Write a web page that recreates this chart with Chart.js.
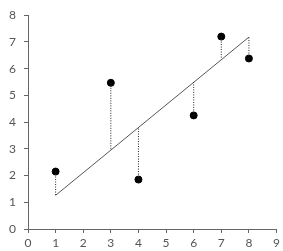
<!DOCTYPE html>
<html>
<head>
<meta charset="utf-8">
<script src="https://cdn.jsdelivr.net/npm/chart.js@4/dist/chart.umd.min.js"></script>
<style>
  html, body { margin: 0; padding: 0; background: #fff; }
  #wrap { width: 283px; height: 251px; }
</style>
</head>
<body>
<div id="wrap"><canvas id="chart"></canvas></div>
<script>
// observed points
const xValues = [1, 3, 4, 6, 7, 8];
const yValues = [2.15, 5.47, 1.85, 4.25, 7.2, 6.38];
// fitted line values read at each x
const fittedValues = [1.26, 2.96, 3.8, 5.5, 6.35, 7.18];
const xTicks = [0, 1, 2, 3, 4, 5, 6, 7, 8, 9];
const yTicks = [0, 1, 2, 3, 4, 5, 6, 7, 8];

const axisColor = '#666';
const textColor = '#555';

let datasets = [];

// dotted residual lines
xValues.forEach((x, i) => {
    datasets.push({
        type: 'line',
        data: [{ x: x, y: yValues[i] }, { x: x, y: fittedValues[i] }],
        borderColor: '#222',
        borderWidth: 1,
        borderDash: [1, 1.5],
        pointRadius: 0,
        fill: false
    });
});

// regression line
datasets.push({
    type: 'line',
    data: [
        { x: xValues[0], y: fittedValues[0] },
        { x: xValues[xValues.length - 1], y: fittedValues[fittedValues.length - 1] }
    ],
    borderColor: '#555',
    borderWidth: 1,
    pointRadius: 0,
    fill: false
});

// points
datasets.push({
    type: 'scatter',
    data: xValues.map((x, i) => ({ x: x, y: yValues[i] })),
    backgroundColor: '#000',
    borderColor: '#000',
    pointRadius: 3.5,
    pointHoverRadius: 3.5
});

const ctx = document.getElementById('chart').getContext('2d');
new Chart(ctx, {
    type: 'scatter',
    data: { datasets: datasets },
    options: {
        responsive: true,
        maintainAspectRatio: false,
        animation: false,
        layout: { padding: { top: 6, right: 6, left: 0, bottom: 0 } },
        plugins: {
            legend: { display: false },
            tooltip: { enabled: false }
        },
        scales: {
            x: {
                type: 'linear',
                min: 0,
                max: 9,
                afterBuildTicks: (scale) => { scale.ticks = xTicks.map(v => ({ value: v })); },
                afterFit: (scale) => { scale.height = 22; },
                grid: { drawOnChartArea: false, drawTicks: true, tickLength: 4, color: axisColor },
                border: { display: true, color: axisColor },
                ticks: { color: textColor, font: { family: 'Lato', size: 12 }, padding: 3, maxRotation: 0 }
            },
            y: {
                type: 'linear',
                min: 0,
                max: 8,
                afterBuildTicks: (scale) => { scale.ticks = yTicks.map(v => ({ value: v })); },
                afterFit: (scale) => { scale.width = 28; },
                grid: { drawOnChartArea: false, drawTicks: true, tickLength: 4, color: axisColor },
                border: { display: true, color: axisColor },
                ticks: { color: textColor, font: { family: 'Lato', size: 12 }, padding: 8 }
            }
        }
    }
});
</script>
</body>
</html>
